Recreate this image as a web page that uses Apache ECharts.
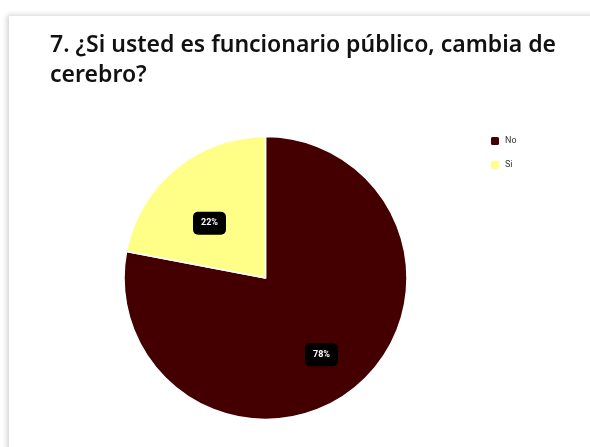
<!DOCTYPE html>
<html>
<head>
<meta charset="utf-8">
<script src="https://cdn.jsdelivr.net/npm/echarts@6/dist/echarts.min.js"></script>
<style>
  html, body { margin: 0; padding: 0; background: #fff; }
  #card {
    position: absolute; left: 9px; top: 16px; width: 600px; height: 460px;
    background: #fff; box-shadow: -2px -1px 5px rgba(0,0,0,0.18);
  }
  #chart { position: absolute; left: 0; top: 0; width: 590px; height: 447px; }
</style>
</head>
<body>
<div id="card"></div>
<div id="chart"></div>
<script>
var titleText = '7. ¿Si usted es funcionario público, cambia de\ncerebro?';
var categories = ['No', 'Si'];
var values = [78, 22];
var colors = ['#440000', '#ffff88'];

var dom = document.getElementById('chart');
var chart = echarts.init(dom, null, { renderer: 'canvas' });

var option = {
  title: {
    text: titleText,
    left: 45,
    top: 25,
    textStyle: {
      fontFamily: 'Noto Sans',
      fontWeight: 600,
      fontSize: 23,
      lineHeight: 30,
      color: '#111'
    }
  },
  legend: {
    orient: 'vertical',
    left: 484,
    top: 130,
    itemWidth: 10,
    itemHeight: 10,
    itemGap: 12,
    icon: 'roundRect',
    data: categories,
    textStyle: { fontSize: 9, color: '#333', fontFamily: 'Roboto' }
  },
  series: [{
    type: 'pie',
    center: [265.5, 278],
    radius: 141.5,
    startAngle: 90,
    clockwise: true,
    data: categories.map(function (c, i) {
      return { name: c, value: values[i], itemStyle: { color: colors[i] } };
    }),
    itemStyle: { borderColor: '#fff', borderWidth: 1.5 },
    label: {
      position: 'inside',
      formatter: '{c}%',
      color: '#fff',
      fontSize: 9,
      fontWeight: 'bold',
      fontFamily: 'Roboto',
      backgroundColor: '#000',
      borderRadius: 5,
      padding: [7, 8]
    },
    labelLayout: function (p) {
      return p.dataIndex === 0 ? { dx: 9, dy: 20 } : { dx: -9, dy: 2 };
    },
    labelLine: { show: false },
    emphasis: { disabled: true }
  }]
};

chart.setOption(option);
window.addEventListener('resize', chart.resize);
</script>
</body>
</html>
